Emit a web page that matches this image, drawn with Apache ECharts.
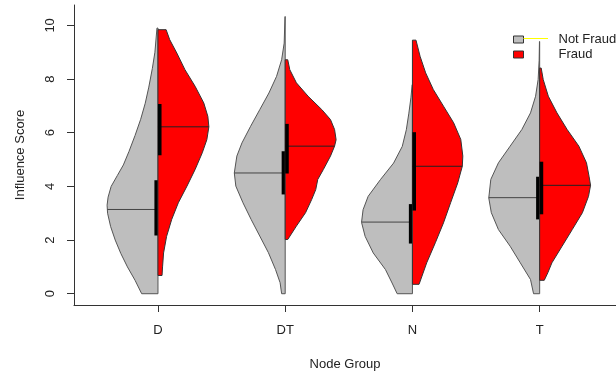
<!DOCTYPE html>
<html>
<head>
<meta charset="utf-8">
<script src="https://cdn.jsdelivr.net/npm/echarts@6/dist/echarts.min.js"></script>
<style>
  html, body { margin: 0; padding: 0; background: #ffffff; }
  #chart { width: 616px; height: 376px; }
</style>
</head>
<body>
<div id="chart"></div>
<script>
// Node groups along the x axis and score ticks on the y axis
const groups = ['D', 'DT', 'N', 'T'];
const groupTicks = [1, 2, 3, 4];
const scoreTicks = [0, 2, 4, 6, 8, 10];

// Density profiles, bottom to top: [influence score, relative half-width]
const notFraudD = [[0, 0.32], [0.5, 0.45], [1.0, 0.6], [1.5, 0.73], [2.0, 0.84], [2.5, 0.93], [3.0, 0.99], [3.3, 1.0], [3.6, 0.98], [4.0, 0.92], [4.4, 0.8], [4.8, 0.68], [5.3, 0.57], [5.9, 0.45], [6.5, 0.34], [7.1, 0.25], [7.7, 0.18], [8.4, 0.11], [9.0, 0.06], [9.9, 0.02]];
const notFraudDT = [[0, 0.07], [0.41, 0.1], [0.9, 0.19], [1.53, 0.33], [2.15, 0.5], [2.77, 0.67], [3.39, 0.83], [4.01, 0.97], [4.5, 1.0], [5.13, 0.95], [5.62, 0.85], [6.24, 0.68], [6.86, 0.5], [7.48, 0.32], [8.1, 0.17], [8.72, 0.07], [9.34, 0.02], [10.33, 0.004]];
const notFraudN = [[0, 0.3], [0.4, 0.4], [0.9, 0.53], [1.52, 0.77], [2.14, 0.93], [2.66, 1.0], [3.13, 0.97], [3.63, 0.87], [4.25, 0.63], [4.87, 0.37], [5.49, 0.2], [6.11, 0.12], [6.73, 0.07], [7.3, 0.03], [7.79, 0.005]];
const notFraudT = [[0, 0.12], [0.53, 0.18], [1.15, 0.38], [1.77, 0.58], [2.39, 0.81], [3.02, 0.95], [3.57, 1.0], [4.26, 0.96], [4.88, 0.81], [5.5, 0.58], [6.12, 0.35], [6.74, 0.18], [7.36, 0.08], [7.98, 0.03], [8.7, 0.01], [9.4, 0.004]];

const fraudD = [[0.68, 0.08], [1.0, 0.09], [1.52, 0.11], [2.14, 0.17], [2.77, 0.27], [3.39, 0.4], [4.01, 0.57], [4.63, 0.73], [5.25, 0.87], [5.74, 0.96], [6.22, 1.0], [6.61, 0.98], [7.11, 0.9], [7.73, 0.73], [8.35, 0.53], [8.97, 0.37], [9.47, 0.23], [9.84, 0.16]];
const fraudDT = [[2.02, 0.05], [2.52, 0.22], [3.02, 0.4], [3.51, 0.52], [3.88, 0.6], [4.26, 0.64], [4.63, 0.75], [5.13, 0.89], [5.5, 0.97], [5.74, 1.0], [6.12, 0.97], [6.49, 0.89], [6.86, 0.72], [7.36, 0.45], [7.86, 0.22], [8.35, 0.09], [8.72, 0.05]];
const fraudN = [[0.35, 0.13], [1.15, 0.28], [1.9, 0.45], [2.64, 0.61], [3.39, 0.75], [4.13, 0.89], [4.75, 0.98], [5.13, 0.99], [5.75, 0.95], [6.37, 0.81], [6.99, 0.61], [7.61, 0.41], [8.23, 0.26], [8.85, 0.15], [9.45, 0.07]];
const fraudT = [[0.5, 0.09], [0.78, 0.16], [1.15, 0.24], [1.77, 0.44], [2.39, 0.64], [3.02, 0.84], [3.63, 0.96], [4.04, 1.0], [4.38, 0.97], [4.88, 0.92], [5.5, 0.77], [6.12, 0.54], [6.74, 0.34], [7.36, 0.17], [7.98, 0.07], [8.41, 0.03]];

// Box statistics per group (D, DT, N, T)
const notFraudMedian = [3.14, 4.5, 2.67, 3.58];
const notFraudQ1 = [2.17, 3.7, 1.87, 2.77];
const notFraudQ3 = [4.23, 5.31, 3.34, 4.36];
const fraudMedian = [6.22, 5.5, 4.75, 4.04];
const fraudQ1 = [5.16, 4.48, 3.1, 2.96];
const fraudQ3 = [7.07, 6.33, 6.02, 4.92];

const notFraudProfiles = [notFraudD, notFraudDT, notFraudN, notFraudT];
const fraudProfiles = [fraudD, fraudDT, fraudN, fraudT];

const HALF_WIDTH = 0.4;   // widest half-violin, in x-axis units
const BOX_WIDTH = 0.028;  // inter-quartile bar, in x-axis units
const FONT = '"Liberation Sans", Arial, sans-serif';

function widthAt(profile, score) {
  for (let k = 1; k < profile.length; k++) {
    const a = profile[k - 1], b = profile[k];
    if (score <= b[0]) {
      const t = (score - a[0]) / (b[0] - a[0]);
      return a[1] + t * (b[1] - a[1]);
    }
  }
  return profile[profile.length - 1][1];
}

// One half of a split violin: density outline, median line and IQR bar
function halfViolin(profiles, med, q1, q3, side, fill, edge, medColor) {
  return function (params, api) {
    const i = params.dataIndex;
    const cx = api.value(0);
    const prof = profiles[i];
    const pts = [api.coord([cx, prof[0][0]])];
    prof.forEach(function (p) { pts.push(api.coord([cx + side * p[1] * HALF_WIDTH, p[0]])); });
    pts.push(api.coord([cx, prof[prof.length - 1][0]]));

    const mw = widthAt(prof, med[i]);
    const m0 = api.coord([cx, med[i]]);
    const m1 = api.coord([cx + side * mw * HALF_WIDTH, med[i]]);

    const b0 = api.coord([cx, q3[i]]);
    const b1 = api.coord([cx + side * BOX_WIDTH, q1[i]]);

    return {
      type: 'group',
      children: [
        { type: 'polygon', shape: { points: pts }, style: { fill: fill, stroke: edge, lineWidth: 1 } },
        { type: 'line', shape: { x1: m0[0], y1: m0[1], x2: m1[0], y2: m1[1] }, style: { stroke: medColor, lineWidth: 1 } },
        { type: 'rect', shape: { x: Math.min(b0[0], b1[0]), y: b0[1], width: Math.abs(b1[0] - b0[0]), height: b1[1] - b0[1] }, style: { fill: '#000000' } }
      ]
    };
  };
}

const chart = echarts.init(document.getElementById('chart'), null, { renderer: 'canvas' });
const positions = groupTicks.map(function (x) { return [x]; });

chart.setOption({
  animation: false,
  backgroundColor: '#ffffff',
  grid: { left: 74, right: 0, top: 5, bottom: 70 },
  xAxis: {
    type: 'value', min: 0.34, max: 4.6,
    name: 'Node Group', nameLocation: 'middle', nameGap: 53,
    nameTextStyle: { fontFamily: FONT, fontSize: 13, color: '#222' },
    axisLine: { show: true, onZero: false, lineStyle: { color: '#333', width: 1 } },
    axisTick: { show: true, length: 7, customValues: groupTicks, lineStyle: { color: '#333' } },
    axisLabel: {
      customValues: groupTicks, margin: 19,
      fontFamily: FONT, fontSize: 13, color: '#222',
      formatter: function (v) { return groups[Math.round(v) - 1]; }
    },
    splitLine: { show: false }
  },
  yAxis: {
    type: 'value', min: -0.42, max: 10.76,
    name: 'Influence Score', nameLocation: 'middle', nameGap: 47, nameRotate: 90,
    nameTextStyle: { fontFamily: FONT, fontSize: 13, color: '#222' },
    axisLine: { show: true, onZero: false, lineStyle: { color: '#333', width: 1 } },
    axisTick: { show: true, length: 7, customValues: scoreTicks, lineStyle: { color: '#333' } },
    axisLabel: {
      customValues: scoreTicks, rotate: 90, margin: 17,
      fontFamily: FONT, fontSize: 13, color: '#222'
    },
    splitLine: { show: false }
  },
  legend: {
    orient: 'vertical', left: 513, top: 33, padding: 0,
    itemWidth: 10, itemHeight: 7, itemGap: 2,
    icon: 'rect',
    itemStyle: { borderColor: '#333', borderWidth: 1 },
    textStyle: { fontFamily: FONT, fontSize: 13, color: '#222', padding: [0, 0, 0, 30] },
    data: ['Not Fraud', 'Fraud']
  },
  graphic: [
    { type: 'line', shape: { x1: 523.5, y1: 38.5, x2: 548, y2: 38.5 }, style: { stroke: '#ffff00', lineWidth: 1 }, z: 10 }
  ],
  series: [
    {
      name: 'Not Fraud', type: 'custom', clip: false,
      itemStyle: { color: '#BEBEBE' },
      renderItem: halfViolin(notFraudProfiles, notFraudMedian, notFraudQ1, notFraudQ3, -1, '#BEBEBE', '#555555', '#444444'),
      data: positions
    },
    {
      name: 'Fraud', type: 'custom', clip: false,
      itemStyle: { color: '#FF0000' },
      renderItem: halfViolin(fraudProfiles, fraudMedian, fraudQ1, fraudQ3, 1, '#FF0000', '#333333', '#222222'),
      data: positions
    }
  ]
});
</script>
</body>
</html>
